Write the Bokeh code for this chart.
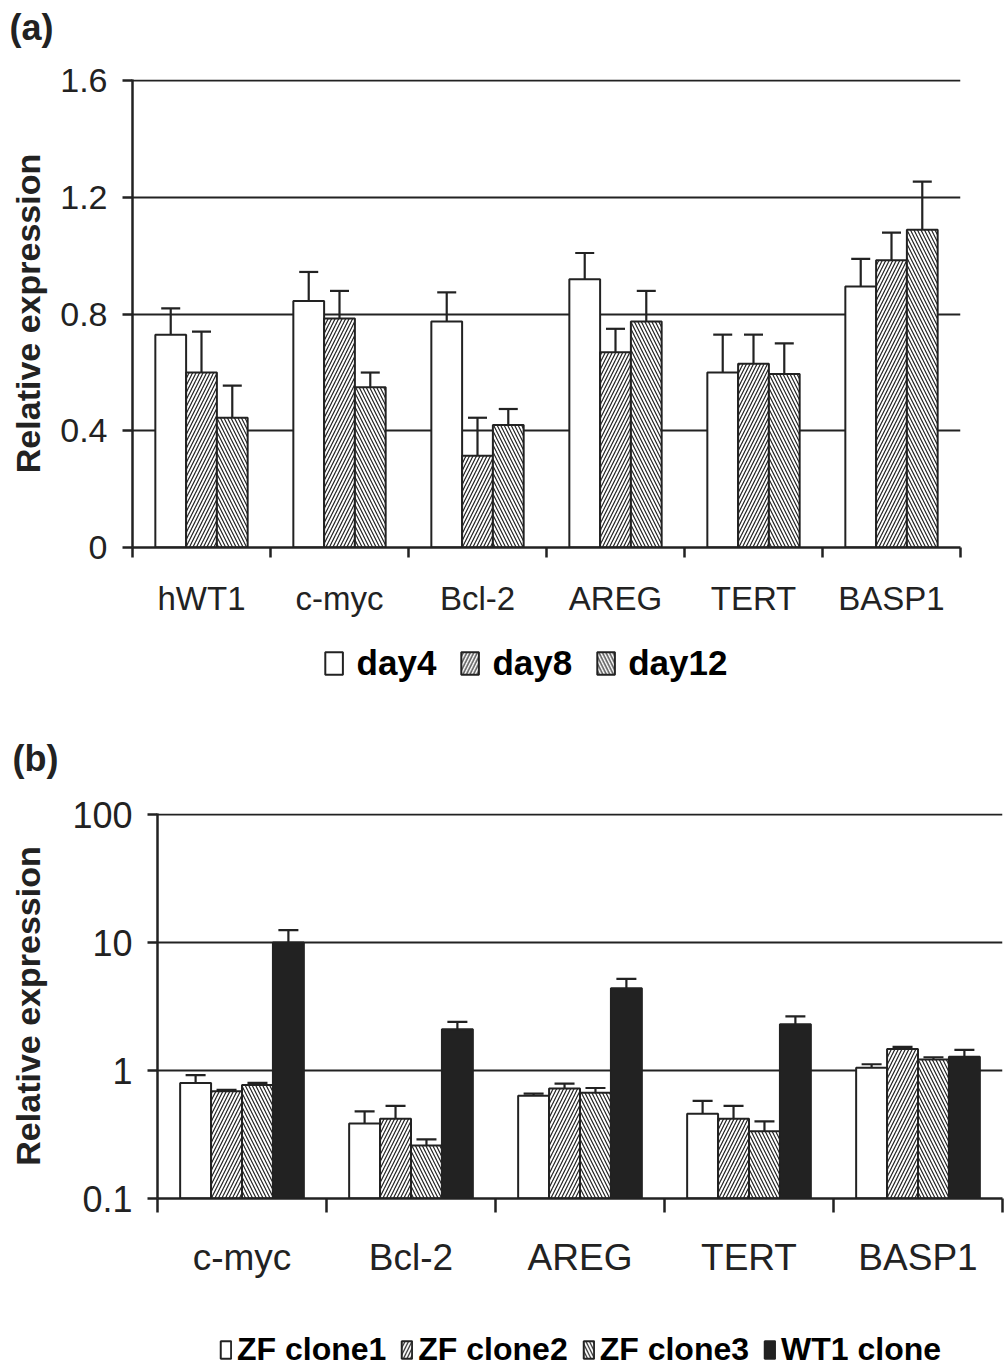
from bokeh.plotting import figure
from bokeh.models import (Range1d, FixedTicker, Whisker, TeeHead, Legend, LegendItem,
                          Title, Label, ColumnDataSource)
from bokeh.transform import dodge
from bokeh.layouts import column
from bokeh.embed import file_html
from bokeh.resources import INLINE

# ---------------- data: panel (a) ----------------
genes_a = ["hWT1", "c-myc", "Bcl-2", "AREG", "TERT", "BASP1"]
series_a = ["day4", "day8", "day12"]
day4 = [0.73, 0.845, 0.775, 0.92, 0.60, 0.895]
day4_err = [0.09, 0.10, 0.10, 0.09, 0.13, 0.095]
day8 = [0.60, 0.785, 0.315, 0.67, 0.63, 0.985]
day8_err = [0.14, 0.095, 0.13, 0.08, 0.10, 0.095]
day12 = [0.445, 0.55, 0.42, 0.775, 0.595, 1.09]
day12_err = [0.11, 0.05, 0.055, 0.105, 0.105, 0.165]
y_ticks_a = [0, 0.4, 0.8, 1.2, 1.6]
y_labels_a = ["0", "0.4", "0.8", "1.2", "1.6"]

# ---------------- data: panel (b) ----------------
genes_b = ["c-myc", "Bcl-2", "AREG", "TERT", "BASP1"]
series_b = ["ZF clone1", "ZF clone2", "ZF clone3", "WT1 clone"]
zf1 = [0.80, 0.385, 0.635, 0.46, 1.05]
zf1_err = [0.12, 0.095, 0.025, 0.12, 0.07]
zf2 = [0.69, 0.42, 0.725, 0.42, 1.47]
zf2_err = [0.015, 0.11, 0.065, 0.11, 0.06]
zf3 = [0.77, 0.26, 0.67, 0.335, 1.22]
zf3_err = [0.03, 0.03, 0.06, 0.065, 0.05]
wt1 = [10.0, 2.1, 4.4, 2.3, 1.28]
wt1_err = [2.5, 0.3, 0.8, 0.35, 0.17]
y_ticks_b = [0.1, 1, 10, 100]
y_labels_b = ["0.1", "1", "10", "100"]

INK = "#222222"
FONT = "Liberation Sans"
HATCH = dict(hatch_color=INK, hatch_scale=7, hatch_weight=1.2)
styles_a = [("white", None), ("white", "/"), ("white", "\\")]
styles_b = [("white", None), ("white", "/"), ("white", "\\"), (INK, None)]


def style_axes(p, ncat, cat_labels, tick_size, cat_size, label_size,
               cat_standoff, xtick_len, y_ticks, y_labels, tick_standoff, label_standoff):
    centers = [i + 0.5 for i in range(ncat)]
    bounds = [float(i) for i in range(ncat + 1)]
    xa = p.xaxis[0]
    xa.ticker = FixedTicker(ticks=centers, minor_ticks=bounds)
    xa.major_label_overrides = {c: l for c, l in zip(centers, cat_labels)}
    xa.major_tick_out = 0
    xa.major_tick_in = 0
    xa.minor_tick_out = xtick_len
    xa.minor_tick_in = 0
    xa.minor_tick_line_width = 2.5
    xa.minor_tick_line_color = INK
    xa.axis_line_width = 2.5
    xa.axis_line_color = INK
    xa.major_label_text_font = FONT
    xa.major_label_text_font_size = cat_size
    xa.major_label_text_color = INK
    xa.major_label_standoff = cat_standoff

    ya = p.yaxis[0]
    ya.ticker = FixedTicker(ticks=y_ticks, minor_ticks=[])
    ya.major_label_overrides = {t: l for t, l in zip(y_ticks, y_labels)}
    ya.major_tick_out = 10
    ya.major_tick_in = 0
    ya.minor_tick_out = 0
    ya.minor_tick_in = 0
    ya.major_tick_line_width = 2.5
    ya.major_tick_line_color = INK
    ya.axis_line_width = 2.5
    ya.axis_line_color = INK
    ya.major_label_text_font = FONT
    ya.major_label_text_font_size = tick_size
    ya.major_label_text_color = INK
    ya.major_label_standoff = tick_standoff
    ya.axis_label = "Relative expression"
    ya.axis_label_text_font = FONT
    ya.axis_label_text_font_size = label_size
    ya.axis_label_text_font_style = "bold"
    ya.axis_label_text_color = INK
    ya.axis_label_standoff = label_standoff

    p.xgrid.visible = False
    p.ygrid.grid_line_color = INK
    p.ygrid.grid_line_width = 2.2
    p.outline_line_color = None
    p.background_fill_color = "white"
    p.border_fill_color = "white"


def blank_figure(height, border_left=0, border_top=0, border_bottom=0):
    f = figure(width=1004, height=height, x_range=Range1d(0, 1), y_range=Range1d(0, 1),
               x_axis_location=None, y_axis_location=None, toolbar_location=None,
               output_backend="svg", frame_align=False,
               min_border_left=border_left, min_border_right=0,
               min_border_top=border_top, min_border_bottom=border_bottom)
    f.grid.visible = False
    f.outline_line_color = None
    return f


def legend_figure(height, border_left, border_top, border_bottom, names, styles,
                  glyph_w, glyph_h, standoff, spacing, font_size):
    f = blank_figure(height, border_left, border_top, border_bottom)
    items = []
    for name, (fill, hatch) in zip(names, styles):
        # swatch-only renderer: NaN height, so nothing is drawn in the frame
        r = f.vbar(x=[0.5], top=[float("nan")], bottom=0, width=0.1, fill_color=fill,
                   line_color=INK, line_width=2, hatch_pattern=hatch, **HATCH)
        items.append(LegendItem(label=name, renderers=[r]))
    leg = Legend(items=items, orientation="horizontal", location="center",
                 glyph_width=glyph_w, glyph_height=glyph_h, label_standoff=standoff,
                 spacing=spacing, padding=0, margin=0, border_line_color=None,
                 background_fill_alpha=0, label_text_font=FONT,
                 label_text_font_size=font_size, label_text_font_style="bold",
                 label_text_color="black")
    f.add_layout(leg, "center")
    return f


# ================= header (a) =================
head_a = blank_figure(52)
head_a.x_range = Range1d(0, 1004)
head_a.y_range = Range1d(0, 52)
head_a.add_layout(Label(x=9, y=25, text="(a)", text_font=FONT, text_font_size="36px",
                        text_font_style="bold", text_color=INK, text_baseline="middle"))

# ================= panel (a) =================
pa = figure(width=1004, height=578, x_range=Range1d(0, 6), y_range=Range1d(0, 1.605),
            output_backend="svg", toolbar_location=None, frame_align=False,
            min_border_left=132, min_border_right=44, min_border_top=27,
            min_border_bottom=83)
style_axes(pa, len(genes_a), genes_a, "34px", "33px", "34px", 22, 10,
           y_ticks_a, y_labels_a, 15, 10)

wa = 0.223
src_a = ColumnDataSource(dict(
    xc=[i + 0.5 for i in range(len(genes_a))],
    day4=day4, day8=day8, day12=day12,
    day4_hi=[v + e for v, e in zip(day4, day4_err)],
    day8_hi=[v + e for v, e in zip(day8, day8_err)],
    day12_hi=[v + e for v, e in zip(day12, day12_err)],
))
for k, (name, (fill, hatch)) in enumerate(zip(series_a, styles_a)):
    off = (k - 1) * wa
    pa.vbar(x=dodge("xc", off, range=pa.x_range), top=name, bottom=0, width=wa,
            source=src_a, fill_color=fill, line_color=INK, line_width=2,
            hatch_pattern=hatch, **HATCH)
    wh = Whisker(base=dodge("xc", off, range=pa.x_range), lower=name, upper=name + "_hi",
                 source=src_a, lower_head=None,
                 upper_head=TeeHead(size=19, line_width=2.2, line_color=INK),
                 line_width=2.2, line_color=INK)
    pa.add_layout(wh)

leg_fig_a = legend_figure(68, 46, 0, 2, series_a, styles_a, 22, 28, 12, 22, "35px")

# ================= panel (b) =================
pb = figure(width=1004, height=602, x_range=Range1d(0, 5), y_range=Range1d(0.1, 102),
            y_axis_type="log", output_backend="svg", toolbar_location=None,
            frame_align=False,
            min_border_left=157, min_border_right=2, min_border_top=115,
            min_border_bottom=102)
style_axes(pb, len(genes_b), genes_b, "36px", "37px", "34px", 24, 14,
           y_ticks_b, y_labels_b, 15, 22)
pb.add_layout(Title(text="(b)", align="left", text_font=FONT, text_font_size="36px",
                    text_font_style="bold", text_color=INK, offset=-145, standoff=70),
              "above")

wb = 0.183
src_b = ColumnDataSource(dict(
    xc=[i + 0.5 for i in range(len(genes_b))],
    zf1=zf1, zf2=zf2, zf3=zf3, wt1=wt1,
    zf1_hi=[v + e for v, e in zip(zf1, zf1_err)],
    zf2_hi=[v + e for v, e in zip(zf2, zf2_err)],
    zf3_hi=[v + e for v, e in zip(zf3, zf3_err)],
    wt1_hi=[v + e for v, e in zip(wt1, wt1_err)],
))
cols_b = ["zf1", "zf2", "zf3", "wt1"]
for k, (col, (fill, hatch)) in enumerate(zip(cols_b, styles_b)):
    off = (k - 1.5) * wb
    pb.vbar(x=dodge("xc", off, range=pb.x_range), top=col, bottom=0.1, width=wb,
            source=src_b, fill_color=fill, line_color=INK, line_width=2,
            hatch_pattern=hatch, **HATCH)
    wh = Whisker(base=dodge("xc", off, range=pb.x_range), lower=col, upper=col + "_hi",
                 source=src_b, lower_head=None,
                 upper_head=TeeHead(size=20, line_width=2.2, line_color=INK),
                 line_width=2.2, line_color=INK)
    pb.add_layout(wh)

leg_fig_b = legend_figure(69, 156, 30, 1, series_b, styles_b, 13, 22, 5, 14, "32px")

layout = column(head_a, pa, leg_fig_a, pb, leg_fig_b, spacing=0)
open("out.html", "w").write(file_html(layout, INLINE))
